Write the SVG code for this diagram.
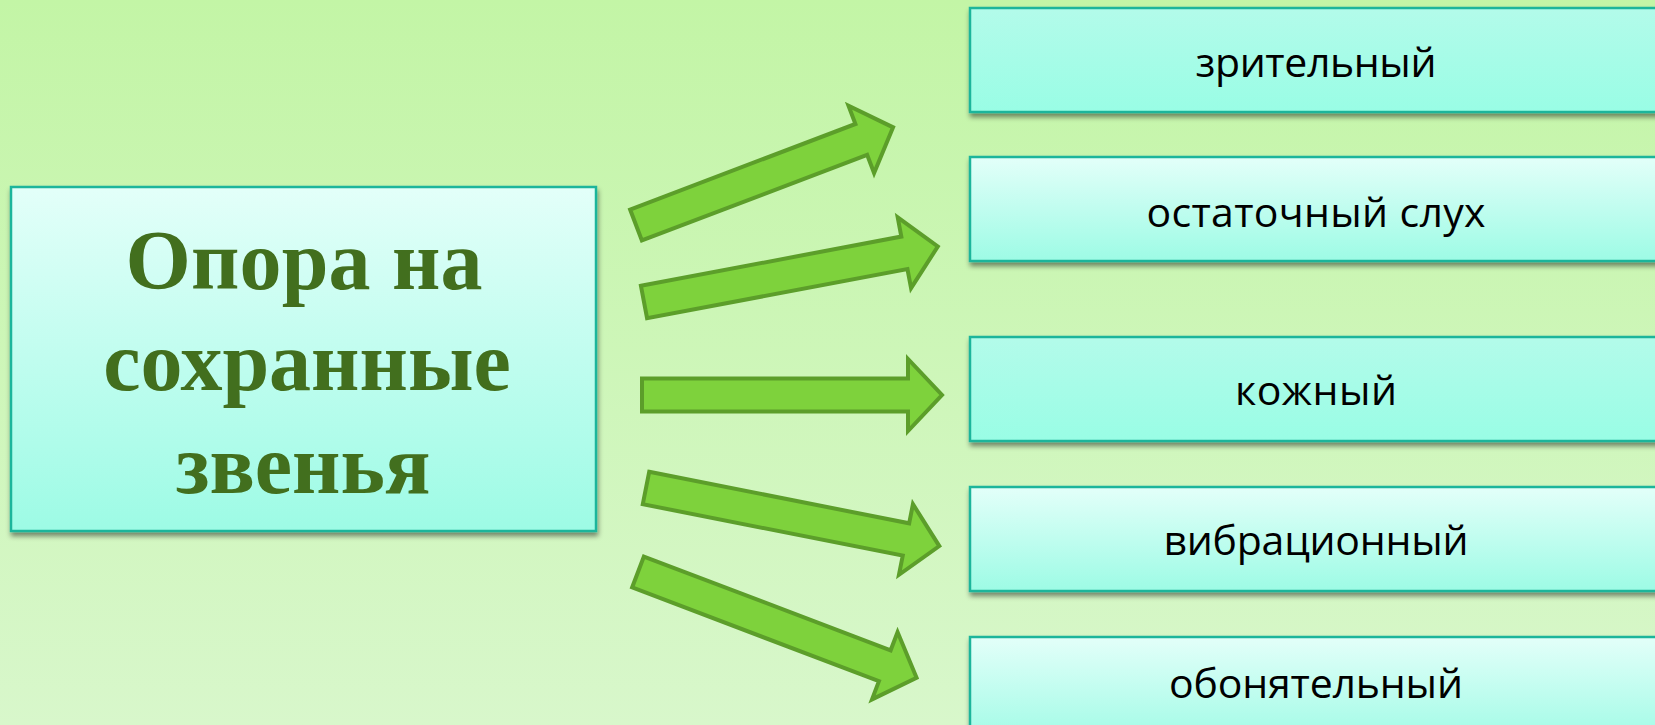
<svg xmlns="http://www.w3.org/2000/svg" width="1655" height="725" viewBox="0 0 1655 725">
<defs>
<linearGradient id="bg" x1="0" y1="0" x2="0" y2="1">
<stop offset="0" stop-color="#c3f5a6"/>
<stop offset="1" stop-color="#d8f7cb"/>
</linearGradient>
<linearGradient id="gLight" x1="0" y1="0" x2="0" y2="1">
<stop offset="0" stop-color="#e3fff9"/>
<stop offset="1" stop-color="#9dfbe5"/>
</linearGradient>
<linearGradient id="gMid" x1="0" y1="0" x2="0" y2="1">
<stop offset="0" stop-color="#b3fbea"/>
<stop offset="1" stop-color="#99fde5"/>
</linearGradient>
<filter id="sh" x="-5%" y="-10%" width="115%" height="130%">
<feDropShadow dx="1" dy="4" stdDeviation="2.5" flood-color="#000" flood-opacity="0.45"/>
</filter>
</defs>
<style>
.box{stroke:#1cb59b;stroke-width:2.5;filter:url(#sh)}
.main{font-family:"Liberation Serif","Times New Roman",serif;font-weight:bold;font-size:84px;fill:#426f1e;text-anchor:middle}
.lbl{font-family:"Open Sans","Noto Sans",sans-serif;font-size:41px;fill:#000;text-anchor:middle}
.arr{fill:#7ed23c;stroke:#5c9e2a;stroke-width:4;stroke-linejoin:miter}
</style>
<rect x="0" y="0" width="1655" height="725" fill="url(#bg)"/>

<g id="connectors">
<polygon class="arr" transform="translate(636,225) rotate(-20.8)" points="0,-16.5 241,-16.5 241,-36 275,0 241,36 241,16.5 0,16.5"/>
<polygon class="arr" transform="translate(644,302) rotate(-10.7)" points="0,-16.5 265,-16.5 265,-36 299,0 265,36 265,16.5 0,16.5"/>
<polygon class="arr" transform="translate(642,395)" points="0,-16.5 266,-16.5 266,-36 300,0 266,36 266,16.5 0,16.5"/>
<polygon class="arr" transform="translate(646,488) rotate(11.2)" points="0,-16.5 265,-16.5 265,-36 299,0 265,36 265,16.5 0,16.5"/>
<polygon class="arr" transform="translate(638,572) rotate(20.8)" points="0,-16.5 264,-16.5 264,-36 298,0 264,36 264,16.5 0,16.5"/>
</g>

<g id="node-main">
<rect class="box" x="11" y="187" width="585" height="344" fill="url(#gLight)"/>
<text class="main" x="304" y="289" textLength="357" lengthAdjust="spacing">Опора на</text>
<text class="main" x="307" y="390">сохранные</text>
<text class="main" x="303" y="493">звенья</text>
</g>

<g id="node-1">
<rect class="box" x="970" y="8" width="692" height="104" fill="url(#gMid)"/>
<text class="lbl" x="1316" y="77" textLength="241" lengthAdjust="spacing">зрительный</text>
</g>
<g id="node-2">
<rect class="box" x="970" y="157" width="692" height="104" fill="url(#gLight)"/>
<text class="lbl" x="1316" y="227" textLength="339" lengthAdjust="spacing">остаточный слух</text>
</g>
<g id="node-3">
<rect class="box" x="970" y="337" width="692" height="104" fill="url(#gMid)"/>
<text class="lbl" x="1316" y="405" textLength="162" lengthAdjust="spacing">кожный</text>
</g>
<g id="node-4">
<rect class="box" x="970" y="487" width="692" height="104" fill="url(#gLight)"/>
<text class="lbl" x="1316" y="555" textLength="305" lengthAdjust="spacing">вибрационный</text>
</g>
<g id="node-5">
<rect class="box" x="970" y="637" width="692" height="110" fill="url(#gLight)"/>
<text class="lbl" x="1316" y="698" textLength="294" lengthAdjust="spacing">обонятельный</text>
</g>
</svg>
